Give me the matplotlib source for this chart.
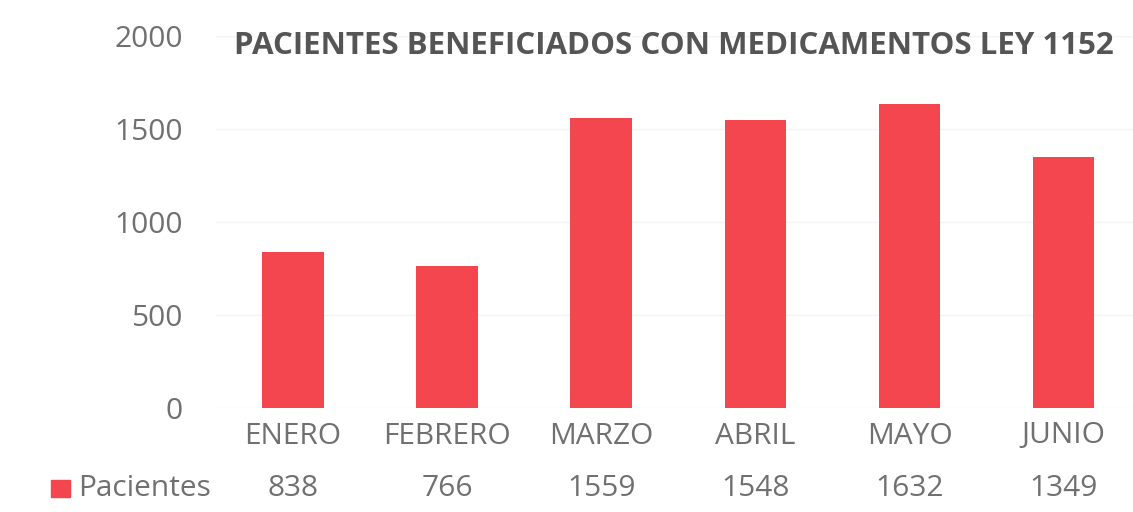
import matplotlib.pyplot as plt
import matplotlib.transforms as mtransforms
from matplotlib.patches import Rectangle
import numpy as np

plt.rcParams['font.family'] = ['Open Sans', 'DejaVu Sans']

meses = ['ENERO', 'FEBRERO', 'MARZO', 'ABRIL', 'MAYO', 'JUNIO']
pacientes = [838, 766, 1559, 1548, 1632, 1349]
serie = 'Pacientes'
titulo = 'PACIENTES BENEFICIADOS CON MEDICAMENTOS LEY 1152'

rojo = '#F4464E'
gris = '#707070'
W, H = 1133, 512

fig = plt.figure(figsize=(W/100, H/100), dpi=100)
ax = fig.add_axes([216/W, (H-408)/H, (W-216)/W, (408-36)/H])

x = np.arange(len(meses))
ax.bar(x, pacientes, width=0.4, color=rojo, zorder=2)

ax.set_ylim(0, 2000)
ax.set_xlim(-0.5, 5.45)
ax.set_yticks([0, 500, 1000, 1500, 2000])
ax.yaxis.grid(True, color='#f4f4f4', lw=1, zorder=0)
ax.tick_params(axis='y', length=0, pad=24, labelsize=21.5, labelcolor=gris)
ax.set_xticks([])
for s in ax.spines.values():
    s.set_visible(False)

# category labels and data table row (x in data, y in figure)
tr = mtransforms.blended_transform_factory(ax.transData, fig.transFigure)
for i, (m, v) in enumerate(zip(meses, pacientes)):
    fig.text(i, (H-436)/H, m, transform=tr, ha='center', va='center',
             fontsize=21.5, color=gris)
    fig.text(i, (H-488)/H, str(v), transform=tr, ha='center', va='center',
             fontsize=21.5, color=gris)

fig.patches.append(Rectangle((51/W, (H-497)/H), 19/W, 17/H, transform=fig.transFigure,
                             color=rojo, figure=fig))
fig.text(78/W, (H-488)/H, serie, ha='left', va='center', fontsize=21.5, color=gris)

fig.text(674/W, (H-46)/H, titulo, ha='center', va='center', fontsize=22.5,
         fontweight='bold', color='#555555')

fig.savefig('out.png', dpi=100)
